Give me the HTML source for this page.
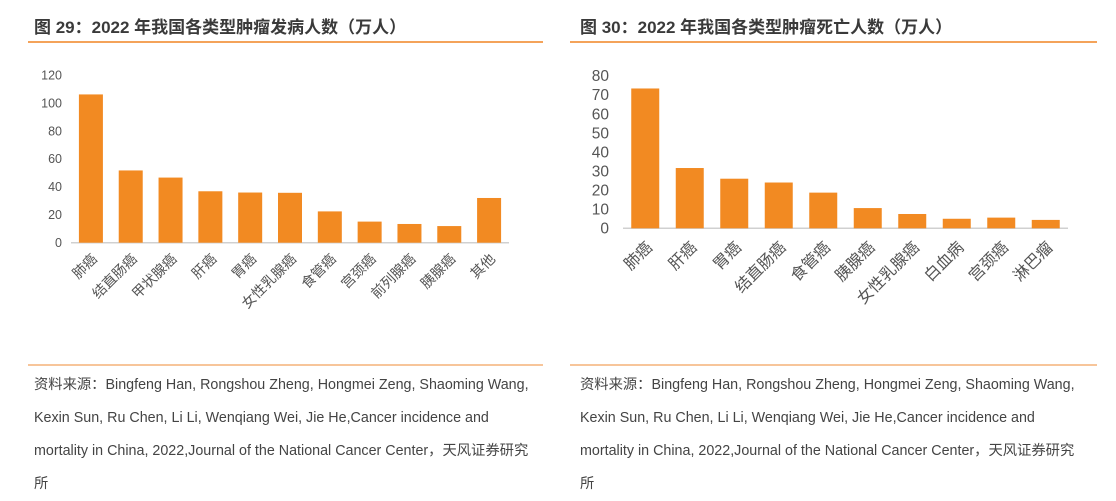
<!DOCTYPE html>
<html><head><meta charset="utf-8"><style>
body{margin:0;width:1116px;height:501px;background:#fff;position:relative;overflow:hidden;font-family:"Liberation Sans","Noto Sans CJK SC",sans-serif;color:#333}
.t{position:absolute;top:13px;font-size:17px;font-weight:bold;color:#3a3a3a;white-space:nowrap}
.hl{position:absolute;height:2px;background:#f4a35a}
.src{position:absolute;top:369px;font-size:14.3px;line-height:33px;color:#444;white-space:nowrap}
svg{position:absolute;left:0;top:0}
</style></head><body>
<div class="t" style="left:34px">图 29：2022 年我国各类型肿瘤发病人数（万人）</div>
<div class="t" style="left:580px">图 30：2022 年我国各类型肿瘤死亡人数（万人）</div>
<div class="hl" style="left:28px;top:41px;width:515px"></div>
<div class="hl" style="left:570px;top:41px;width:527px"></div>
<div class="hl" style="left:28px;top:364px;width:515px;background:#f7c59a"></div>
<div class="hl" style="left:570px;top:364px;width:527px;background:#f7c59a"></div>
<div class="src" style="left:34px">资料来源：Bingfeng Han, Rongshou Zheng, Hongmei Zeng, Shaoming Wang,<br>Kexin Sun, Ru Chen, Li Li, Wenqiang Wei, Jie He,Cancer incidence and<br>mortality in China, 2022,Journal of the National Cancer Center，天风证券研究<br>所</div>
<div class="src" style="left:580px">资料来源：Bingfeng Han, Rongshou Zheng, Hongmei Zeng, Shaoming Wang,<br>Kexin Sun, Ru Chen, Li Li, Wenqiang Wei, Jie He,Cancer incidence and<br>mortality in China, 2022,Journal of the National Cancer Center，天风证券研究<br>所</div>
<svg id="chart" width="1116" height="501"></svg>
<script>
const cats1=["肺癌","结直肠癌","甲状腺癌","肝癌","胃癌","女性乳腺癌","食管癌","宫颈癌","前列腺癌","胰腺癌","其他"];
const vals1=[106.1,51.7,46.6,36.8,35.9,35.7,22.4,15.1,13.4,11.9,32.0];
const ticks1=[0,20,40,60,80,100,120];
const cats2=["肺癌","肝癌","胃癌","结直肠癌","食管癌","胰腺癌","女性乳腺癌","白血病","宫颈癌","淋巴瘤"];
const vals2=[73.3,31.6,26.0,24.0,18.7,10.6,7.5,5.0,5.6,4.4];
const ticks2=[0,10,20,30,40,50,60,70,80];
const svg=document.getElementById('chart');
const NS='http://www.w3.org/2000/svg';
function mk(tag,attrs,parent){const e=document.createElementNS(NS,tag);for(const k in attrs)e.setAttribute(k,attrs[k]);(parent||svg).appendChild(e);return e;}
function draw(cfg,cats,vals,ticks,id){
  const g=mk('g',{});
  
  
  const y=v=>cfg.y0-(v/cfg.max)*(cfg.y0-cfg.yTop);
  const step=(cfg.x1-cfg.x0)/cats.length;
  const x=i=>cfg.x0+step*i+(step-cfg.bw)/2;
  ticks.forEach(t=>{
    const tx=mk('text',{x:cfg.tx,y:y(t)+cfg.fs*0.35,'text-anchor':'end','font-size':cfg.fs,fill:'#555','font-family':'Liberation Sans, sans-serif'},g);
    tx.textContent=t;
    
    
  });
  const ax=mk('line',{x1:cfg.x0,x2:cfg.x1,y1:cfg.y0,y2:cfg.y0,stroke:'#d0d0d0','stroke-width':1.5},g);
  
  
  cats.forEach((c,i)=>{
    const r=mk('rect',{x:x(i),y:y(vals[i]),width:cfg.bw,height:cfg.y0-y(vals[i]),fill:'#f28a22'},g);
    
    
    const cx=x(i)+cfg.bw/2+cfg.lo, cy=cfg.y0+cfg.ly;
    const t=mk('text',{x:cx,y:cy,'text-anchor':'end','font-size':cfg.lfs,fill:'#555',transform:`rotate(-45 ${cx} ${cy})`,'font-family':'Liberation Sans, Noto Sans CJK SC, sans-serif'},g);
    t.textContent=c;
    
    
  });
}
draw({x0:71,x1:509,y0:242.7,yTop:75,max:120,bw:24,tx:62,fs:12.5,lfs:14,lo:7,ly:17},cats1,vals1,ticks1,'incidence');
draw({x0:623,x1:1068,y0:228.3,yTop:75.7,max:80,bw:28,tx:609,fs:15.5,lfs:16,lo:8,ly:20},cats2,vals2,ticks2,'mortality');
</script>
</body></html>
